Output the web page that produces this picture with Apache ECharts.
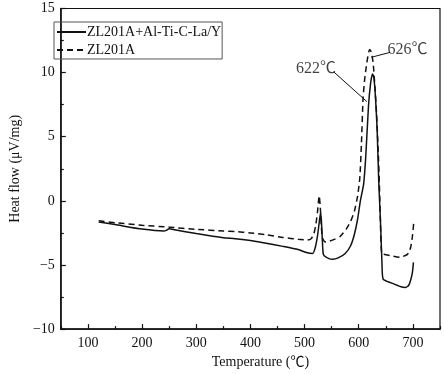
<!DOCTYPE html>
<html>
<head>
<meta charset="utf-8">
<script src="https://cdn.jsdelivr.net/npm/echarts@6/dist/echarts.min.js"></script>
<style>
html,body{margin:0;padding:0;background:#fff;}
#chart{width:444px;height:374px;}
</style>
</head>
<body>
<div id="chart"></div>
<script>
// Temperature (°C) and heat flow (µV/mg)
const tempModified = [120,150,200,240,245,250,260,300,350,372,400,429,460,488,505,515,520,524,527,529.5,531,533,535,545,552,562,575,585,592,598,603,609,613,618,622,625.5,628,631,634,637,640,643,645,660,678,686,692,696,699,701];
const flowModified = [-1.65,-1.85,-2.2,-2.35,-2.3,-2.18,-2.25,-2.55,-2.88,-2.95,-3.1,-3.3,-3.55,-3.8,-4.05,-4.1,-3.6,-2.7,-1.7,-0.95,-1.5,-3.2,-4.2,-4.5,-4.55,-4.45,-4.1,-3.5,-2.6,-1.4,0.0,1.3,3.5,7.4,9.2,9.9,9.6,8.0,5.5,1.4,-1.5,-5.0,-6.1,-6.4,-6.7,-6.75,-6.6,-6.15,-5.6,-4.8];
const tempBase = [120,150,200,250,300,350,372,400,429,460,488,505,512,517,521,524,527,529,531,533,538,545,555,565,577,585,592,598,602,605,608,611,614,617,620,623,626.5,630,633,636,638,640,642.5,650,661,676,689,693,696,699,701.5];
const flowBase = [-1.55,-1.7,-1.9,-2.05,-2.22,-2.35,-2.4,-2.5,-2.65,-2.85,-3.0,-3.05,-2.95,-2.6,-1.8,-0.8,0.4,-0.5,-2.0,-2.9,-3.2,-3.15,-3.0,-2.8,-2.2,-1.6,-0.8,0.4,1.8,4.5,8.0,9.5,10.5,11.3,11.8,11.6,10.8,8.8,6.7,3.8,1.4,-1.5,-4.1,-4.2,-4.3,-4.4,-4.2,-4.0,-3.6,-2.8,-1.7];
const seriesNames = ['ZL201A+Al-Ti-C-La/Y','ZL201A'];
const xMajorTicks = [100,200,300,400,500,600,700];
const xMinorTicks = [50,150,250,350,450,550,650,750];
// annotations: text positions and arrows (in data coordinates)
const annotTexts = [[521,10.3,'622℃'],[690,11.8,'626℃']];
const annotArrows = [[[554,10.05],[615,7.74]],[[658,11.58],[623.6,11.2]]];

const FONT = "'Liberation Serif','Times New Roman','Noto Sans CJK SC',serif";
const INK = '#111';

const chart = echarts.init(document.getElementById('chart'), null, {renderer:'canvas'});
const zip = (a,b)=>a.map((v,i)=>[v,b[i]]);
chart.setOption({
  animation:false,
  backgroundColor:'#fff',
  grid:{left:36,right:4,top:8.5,bottom:40,show:true,borderColor:INK,borderWidth:1.2,backgroundColor:'transparent'},
  legend:{
    data:seriesNames.map(n=>({name:n})),
    orient:'vertical',left:54,top:22,
    padding:[3,1,2,2],itemGap:4,itemWidth:29,itemHeight:14,
    borderColor:'#555',borderWidth:1,
    itemStyle:{color:'transparent',borderColor:'transparent',borderWidth:0,opacity:0},
    textStyle:{fontFamily:FONT,fontSize:14,color:INK,padding:[0,0,0,-4]},
    selectedMode:false
  },
  xAxis:[{
    type:'value',min:50,max:750,
    name:'Temperature (℃)',nameLocation:'middle',nameGap:21,
    nameTextStyle:{fontFamily:FONT,fontSize:14,color:INK,padding:[0,0,0,20]},
    axisLine:{onZero:false,lineStyle:{color:INK,width:1.5}},
    axisTick:{inside:true,length:5,customValues:xMajorTicks,lineStyle:{color:INK,width:1.2}},
    axisLabel:{customValues:xMajorTicks,fontFamily:FONT,fontSize:14,color:INK,margin:7},
    splitLine:{show:false}
  },{
    type:'value',min:50,max:750,position:'bottom',
    axisLine:{show:false,onZero:false},
    axisTick:{inside:true,length:3,customValues:xMinorTicks,lineStyle:{color:INK,width:1.2}},
    axisLabel:{show:false},splitLine:{show:false}
  }],
  yAxis:{
    type:'value',min:-10,max:15,interval:5,
    name:'Heat flow (μV/mg)',nameLocation:'middle',nameGap:24,
    nameTextStyle:{fontFamily:FONT,fontSize:14,color:INK},
    axisLine:{show:true,onZero:false,lineStyle:{color:INK,width:1.5}},
    axisTick:{inside:true,length:5,lineStyle:{color:INK,width:1.2}},
    minorTick:{show:true,splitNumber:2,length:3,lineStyle:{color:INK,width:1.2}},
    axisLabel:{fontFamily:FONT,fontSize:14,color:INK,margin:6,formatter:v=>String(v).replace('-','−')},
    splitLine:{show:false},minorSplitLine:{show:false}
  },
  series:[{
    name:seriesNames[0],type:'line',data:zip(tempModified,flowModified),
    showSymbol:false,symbol:'none',smooth:0.2,
    lineStyle:{color:INK,width:1.5,type:'solid'},itemStyle:{color:INK},z:3
  },{
    name:seriesNames[1],type:'line',data:zip(tempBase,flowBase),
    showSymbol:false,symbol:'none',smooth:0.2,
    lineStyle:{color:INK,width:1.5,type:[6,4]},itemStyle:{color:INK},z:2
  },{
    name:'annot',type:'scatter',data:annotTexts,symbolSize:0,silent:true,
    label:{show:true,position:'inside',formatter:p=>p.data[2],fontFamily:FONT,fontSize:16,color:INK},
    markLine:{
      silent:true,symbol:['none','arrow'],symbolSize:[0,7],
      lineStyle:{color:INK,width:1,type:'solid'},label:{show:false},
      data:annotArrows.map(a=>[{coord:a[0]},{coord:a[1]}])
    }
  }]
});
</script>
</body>
</html>
